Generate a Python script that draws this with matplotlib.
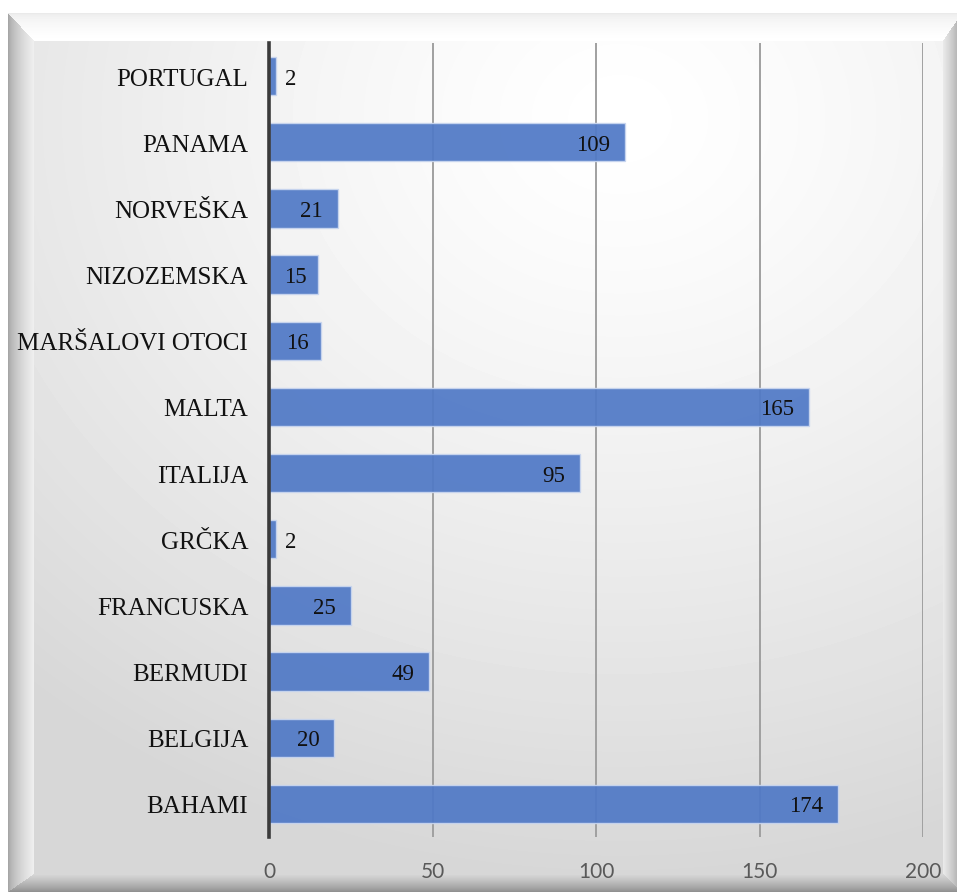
import numpy as np
import matplotlib.pyplot as plt

# podaci
zemlje = ["BAHAMI", "BELGIJA", "BERMUDI", "FRANCUSKA", "GRČKA", "ITALIJA",
          "MALTA", "MARŠALOVI OTOCI", "NIZOZEMSKA", "NORVEŠKA", "PANAMA", "PORTUGAL"]
broj = [174, 20, 49, 25, 2, 95, 165, 16, 15, 21, 109, 2]
x_ticks = [0, 50, 100, 150, 200]

W, H = 957, 895
fig = plt.figure(figsize=(W / 100, H / 100), dpi=100)

# pozadina s "bevel" okvirom
X, Y = np.meshgrid(np.arange(W) + 0.5, np.arange(H) + 0.5)
ox0, oy0, ox1, oy1 = 8, 14, 962, 893      # vanjski rub
ix0, iy0, ix1, iy1 = 34, 42, 943, 875     # unutarnja ploha
img = np.ones((H, W))

dist = np.sqrt(((X - 620) / 1.0) ** 2 + ((Y - 120) / 0.85) ** 2)
face = 1.0 - 0.16 * np.clip(dist / 900, 0, 1) ** 1.3
inner = (X >= ix0) & (X <= ix1) & (Y >= iy0) & (Y <= iy1)
img[inner] = face[inner]

outer = (X >= ox0) & (X <= ox1) & (Y >= oy0) & (Y <= oy1) & ~inner
fl = (X - ox0) / (ix0 - ox0)
ft = (Y - oy0) / (iy0 - oy0)
fr = (ox1 - X) / (ox1 - ix1)
fb = (oy1 - Y) / (oy1 - iy1)
stack = np.stack([fl, ft, fr, fb])
side = np.argmin(stack, axis=0)
f = np.clip(np.min(stack, axis=0), 0, 1)
shade = np.select(
    [side == 0, side == 1, side == 2, side == 3],
    [0.62 + 0.32 * f ** 0.6, 0.88 + 0.12 * f ** 0.3, 0.58 + 0.34 * f ** 0.7, 0.55 + 0.30 * f ** 0.8])
img[outer] = shade[outer]

bg = fig.add_axes([0, 0, 1, 1], zorder=-1)
bg.imshow(img, cmap="gray", vmin=0, vmax=1, extent=[0, W, H, 0], aspect="auto",
          interpolation="bilinear")
bg.axis("off")

# glavni graf
ax = fig.add_axes([269 / W, 1 - 838 / H, (923 - 269) / W, (838 - 44) / H])
ax.set_facecolor("none")
y = np.arange(len(zemlje))
bars = ax.barh(y, broj, height=0.58, color="#5079c6", alpha=0.93,
               edgecolor="#c9d6ef", linewidth=1.0, zorder=3)

ax.set_xlim(0, 200)
ax.set_ylim(-0.5, len(zemlje) - 0.5)
ax.set_xticks(x_ticks)
ax.set_xticklabels([str(t) for t in x_ticks], fontfamily="Lato", fontsize=15, color="#595959")
ax.set_yticks(y)
ax.set_yticklabels(zemlje, fontfamily="Liberation Serif", fontsize=18, color="#111111")
ax.tick_params(axis="x", length=0, pad=17)
ax.tick_params(axis="y", length=0, pad=15)
ax.grid(axis="x", color="#a0a0a0", linewidth=1.4, zorder=1)
for s in ["top", "right", "bottom"]:
    ax.spines[s].set_visible(False)
ax.spines["left"].set_color("#3a3a3a")
ax.spines["left"].set_linewidth(2.6)
ax.spines["left"].set_zorder(4)

# oznake vrijednosti (kao Excel "inside end")
px_per_unit = (923 - 269) / 200
lbl = dict(fontfamily="Liberation Serif", fontsize=16.5, color="#111111", va="center", zorder=5)
for rect, v in zip(bars, broj):
    yc = rect.get_y() + rect.get_height() / 2
    bar_px = v * px_per_unit
    txt_px = 12 * len(str(v))
    if v < 10:
        ax.annotate(str(v), (v, yc), xytext=(9, -2), textcoords="offset pixels", ha="left", **lbl)
    elif bar_px < txt_px + 30:
        ax.annotate(str(v), (v / 2, yc), xytext=(2, -2), textcoords="offset pixels", ha="center", **lbl)
    else:
        ax.annotate(str(v), (v, yc), xytext=(-15, -2), textcoords="offset pixels", ha="right", **lbl)

fig.savefig("out.png", dpi=100)
